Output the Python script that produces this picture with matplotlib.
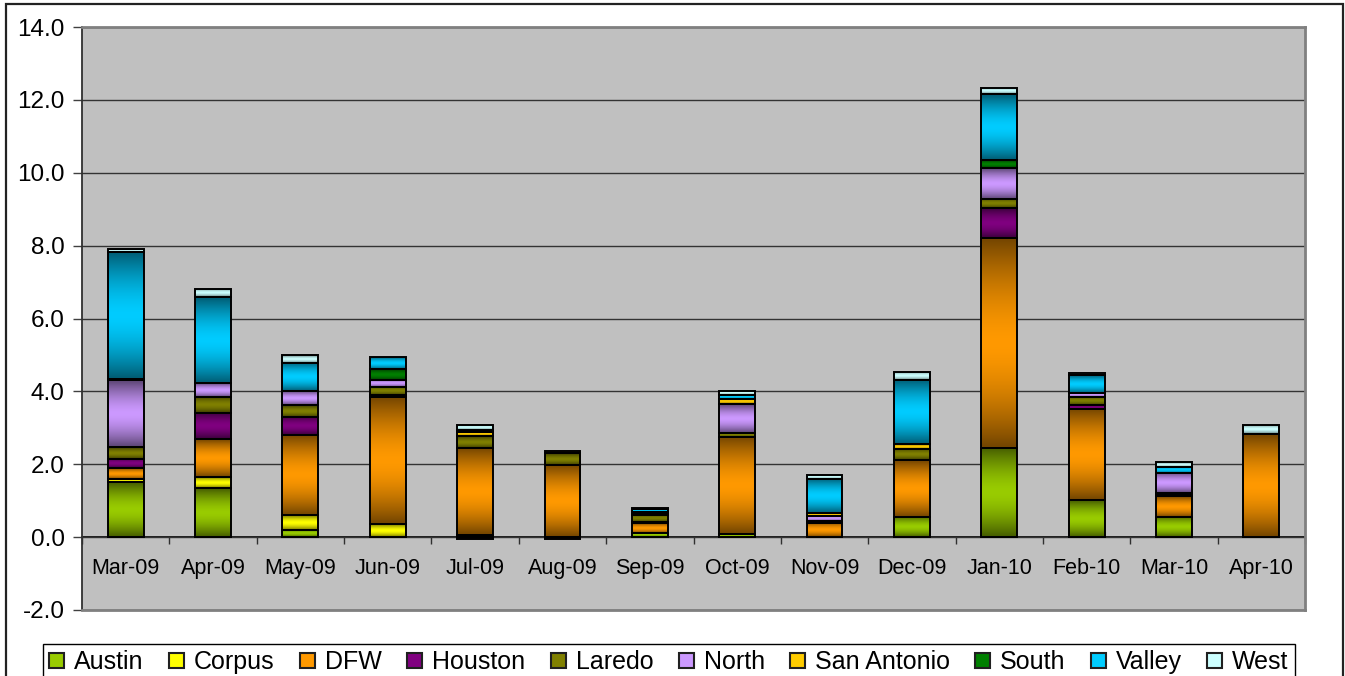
import numpy as np
import matplotlib
matplotlib.use("Agg")
import matplotlib.pyplot as plt
from matplotlib.colors import to_rgb
from matplotlib.patches import Patch, Rectangle

months = ['Mar-09', 'Apr-09', 'May-09', 'Jun-09', 'Jul-09', 'Aug-09', 'Sep-09',
          'Oct-09', 'Nov-09', 'Dec-09', 'Jan-10', 'Feb-10', 'Mar-10', 'Apr-10']

series_names = ['Austin', 'Corpus', 'DFW', 'Houston', 'Laredo', 'North',
                'San Antonio', 'South', 'Valley', 'West']

austin      = [1.50, 1.34, 0.20, 0.00, 0.05, 0.00, 0.12, 0.08, 0.00, 0.56, 2.45, 1.01, 0.56, 0.00]
corpus      = [0.10, 0.30, 0.40, 0.35, 0.00, 0.00, 0.00, 0.00, 0.00, 0.00, 0.00, 0.00, 0.00, 0.00]
dfw         = [0.30, 1.04, 2.20, 3.50, 2.40, 1.98, 0.27, 2.68, 0.39, 1.55, 5.77, 2.52, 0.56, 2.82]
houston     = [0.25, 0.73, 0.50, 0.05, -0.05, -0.06, 0.03, 0.00, 0.00, 0.00, 0.80, 0.09, 0.04, 0.00]
laredo      = [0.32, 0.44, 0.32, 0.22, 0.32, 0.32, 0.20, 0.11, 0.05, 0.32, 0.27, 0.23, 0.04, 0.00]
north       = [1.83, 0.37, 0.38, 0.20, 0.00, 0.00, 0.00, 0.78, 0.15, 0.00, 0.85, 0.11, 0.56, 0.00]
san_antonio = [0.03, 0.00, 0.00, 0.00, 0.12, 0.05, 0.03, 0.14, 0.06, 0.12, 0.00, 0.00, 0.00, 0.00]
south       = [0.00, 0.00, 0.00, 0.30, 0.00, 0.00, 0.03, 0.00, 0.00, 0.00, 0.20, 0.00, 0.00, 0.00]
valley      = [3.50, 2.36, 0.79, 0.32, 0.04, 0.00, 0.08, 0.11, 0.94, 1.76, 1.81, 0.48, 0.17, 0.00]
west        = [0.07, 0.22, 0.20, 0.00, 0.15, 0.00, 0.05, 0.12, 0.11, 0.23, 0.17, 0.06, 0.13, 0.25]

colors = ['#99CC00', '#FFFF00', '#FF9900', '#800080', '#808000', '#CC99FF',
          '#FFCC00', '#008000', '#00CCFF', '#CCFFFF']

yticks = [-2.0, 0.0, 2.0, 4.0, 6.0, 8.0, 10.0, 12.0, 14.0]

all_series = [austin, corpus, dfw, houston, laredo, north, san_antonio, south, valley, west]

plt.rcParams['font.family'] = ['Liberation Sans', 'DejaVu Sans']

W, H = 1345, 676
fig = plt.figure(figsize=(W / 100, H / 100), dpi=100)
ax = fig.add_axes([82 / W, 1 - 610 / H, (1305 - 82) / W, (610 - 27) / H])
ax.set_facecolor('#C0C0C0')


def shade(color, n=80):
    rgb = np.array(to_rgb(color))
    t = np.linspace(0, 1, n)
    f = 1 - 0.55 * np.abs(2 * t - 1) ** 1.6
    return (rgb[None, :] * f[:, None])[:, None, :]


x = np.arange(len(months))
width = 0.41
pos_bottom = np.zeros(len(months))
neg_bottom = np.zeros(len(months))
for vals, col in zip(all_series, colors):
    vals = np.array(vals, dtype=float)
    grad = shade(col)
    for i, v in enumerate(vals):
        if v == 0:
            continue
        if v > 0:
            b = pos_bottom[i]
            pos_bottom[i] += v
        else:
            b = neg_bottom[i]
            neg_bottom[i] += v
        bar = ax.bar(x[i], v, width=width, bottom=b, facecolor='none',
                     edgecolor='black', linewidth=1.4, zorder=4)[0]
        x0 = bar.get_x()
        y0 = bar.get_y()
        im = ax.imshow(grad, extent=[x0, x0 + bar.get_width(), y0, y0 + bar.get_height()],
                       aspect='auto', origin='lower', interpolation='bilinear', zorder=3)
        im.set_clip_path(bar)

ax.set_xlim(-0.5, len(months) - 0.5)
ax.set_ylim(-2, 14)
ax.set_aspect('auto')

# y axis
ax.set_yticks(yticks)
ax.set_yticklabels([f'{v:.1f}' for v in yticks], fontsize=17.5)
ax.tick_params(axis='y', direction='out', length=6.5, width=1, color='#404040', pad=6)
ax.grid(axis='y', color='#333333', linewidth=1.0, zorder=1)
ax.set_axisbelow(True)
ax.tick_params(axis='x', bottom=False, labelbottom=False)

for side in ['top', 'right', 'bottom']:
    ax.spines[side].set_color('#808080')
    ax.spines[side].set_linewidth(2)
ax.spines['left'].set_color('#303030')
ax.spines['left'].set_linewidth(1.3)

# category axis at y = 0
sec = ax.secondary_xaxis(2 / 16)
sec.spines['bottom'].set_color('black')
sec.spines['bottom'].set_linewidth(1.2)
sec.set_xticks(x)
sec.set_xticklabels(months, fontsize=15.5)
sec.set_xticks(np.arange(-0.5, len(months), 1), minor=True)
sec.tick_params(which='major', length=0, pad=15)
sec.tick_params(which='minor', length=5, width=1, color='#303030', direction='out')

# legend
handles = [Patch(facecolor=c, edgecolor='#202020', linewidth=1.5, label=n)
           for n, c in zip(series_names, colors)]
leg = fig.legend(handles=handles, loc='upper left', ncol=10, mode='expand',
                 bbox_to_anchor=(43 / W, 1 - 644 / H - 0.06, (1295 - 43) / W, 0.06),
                 fontsize=18, frameon=True, fancybox=False, edgecolor='black',
                 framealpha=1, borderaxespad=0, handlelength=0.6, handleheight=0.6,
                 handletextpad=0.4, borderpad=0.25)
leg.get_frame().set_linewidth(1.0)

# chart area border
fig.add_artist(Rectangle((6 / W, -0.02), (1343 - 6) / W, (H - 4) / H + 0.02,
                         transform=fig.transFigure, fill=False, edgecolor='#222222',
                         linewidth=1.6))

fig.savefig('out.png', dpi=100)
